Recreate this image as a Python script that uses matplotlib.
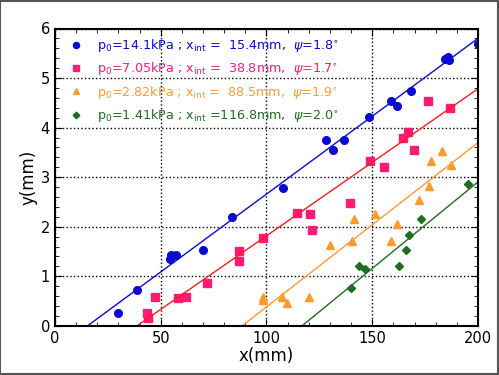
import numpy as np
import matplotlib.pyplot as plt
from matplotlib.patches import Rectangle
from matplotlib.ticker import MultipleLocator

# parametros de cada serie (leyenda)
p0 = ['14.1', '7.05', '2.82', '1.41']
x_int = [15.4, 38.8, 88.5, 116.8]
psi = [1.8, 1.7, 1.9, 2.0]

# datos medidos
x_azul = [29.6, 38.6, 54.4, 54.8, 57.4, 69.8, 83.7, 107.9, 128.3, 131.6, 136.6, 148.6,
          158.9, 161.6, 168.2, 184.4, 186.3, 186.0, 199.8]
y_azul = [0.25, 0.72, 1.35, 1.42, 1.42, 1.53, 2.19, 2.78, 3.75, 3.55, 3.75, 4.21,
          4.54, 4.44, 4.74, 5.38, 5.37, 5.42, 5.69]
x_rosa = [43.3, 44.0, 47.3, 58.3, 61.9, 71.9, 86.8, 86.8, 98.5, 114.2, 120.6, 121.4,
          139.5, 149.1, 155.4, 164.5, 167.1, 169.7, 176.2, 186.9]
y_rosa = [0.25, 0.16, 0.59, 0.56, 0.58, 0.87, 1.52, 1.30, 1.77, 2.27, 2.25, 1.94,
          2.48, 3.33, 3.21, 3.80, 3.91, 3.54, 4.53, 4.39]
x_nar = [98.5, 98.5, 107.2, 109.5, 120.1, 130.0, 140.4, 141.2, 151.3, 158.7, 161.6,
         171.9, 176.8, 177.9, 183.1, 187.2]
y_nar = [0.58, 0.52, 0.58, 0.46, 0.59, 1.64, 1.72, 2.16, 2.25, 1.72, 2.05,
         2.54, 2.82, 3.33, 3.53, 3.25]
x_ver = [140.0, 143.6, 146.4, 162.8, 166.0, 167.4, 173.0, 195.1]
y_ver = [0.76, 1.21, 1.14, 1.21, 1.53, 1.84, 2.16, 2.86]

xs = [x_azul, x_rosa, x_nar, x_ver]
ys = [y_azul, y_rosa, y_nar, y_ver]
col_pts = ['#0a0ad2', '#ff1a75', '#ff9a2e', '#1e6e1e']
col_lin = ['#0a0ad2', '#ff1a1a', '#ff9a2e', '#1e6e1e']
marcadores = ['o', 's', '^', 'D']
tam = [5.5, 5.5, 5.5, 4.2]

fig = plt.figure(figsize=(4.99, 3.75), dpi=100)
ax = fig.add_axes([0.110, 0.131, 0.848, 0.793])

for i in range(4):
    etiqueta = (r'p$_0$=' + p0[i] + r'kPa ; x$_{\rm int}$ =' + '{:>5.1f}'.format(x_int[i]).replace(' ', '  ')
                + r'mm,  $\psi$=' + '{:.1f}'.format(psi[i]) + r'$^{\circ}$')
    ax.plot(xs[i], ys[i], linestyle='none', marker=marcadores[i], ms=tam[i],
            color=col_pts[i], label=etiqueta)
    xl = np.array([x_int[i], 200])
    ax.plot(xl, np.tan(np.radians(psi[i])) * (xl - x_int[i]), color=col_lin[i], lw=1)

ax.set_xlim(0, 200)
ax.set_ylim(0, 6)
ax.xaxis.set_major_locator(MultipleLocator(50))
ax.xaxis.set_minor_locator(MultipleLocator(10))
ax.yaxis.set_major_locator(MultipleLocator(1))
ax.yaxis.set_minor_locator(MultipleLocator(0.2))
ax.tick_params(which='both', direction='in', top=True, right=True, labelsize=10.5)
ax.tick_params(which='major', length=5)
ax.tick_params(which='minor', length=3)
ax.grid(True, which='major', color='black', linestyle=':', lw=1)
for s in ax.spines.values():
    s.set_linewidth(1.5)

ax.set_xlabel('x(mm)', fontsize=12, labelpad=1)
ax.set_ylabel('y(mm)', fontsize=12, labelpad=2)

leg = ax.legend(loc='upper left', bbox_to_anchor=(0.014, 0.995), frameon=False,
                fontsize=9.2, handletextpad=1.0, labelspacing=0.5, borderaxespad=0.4,
                borderpad=0.15, handlelength=1.3, markerscale=0.8)
for t, c in zip(leg.get_texts(), col_pts):
    t.set_color(c)

fig.patches.append(Rectangle((0.001, 0.002), 0.996, 0.996, transform=fig.transFigure,
                             fill=False, edgecolor='#555555', lw=1.5))

fig.savefig('out.png', dpi=100)
